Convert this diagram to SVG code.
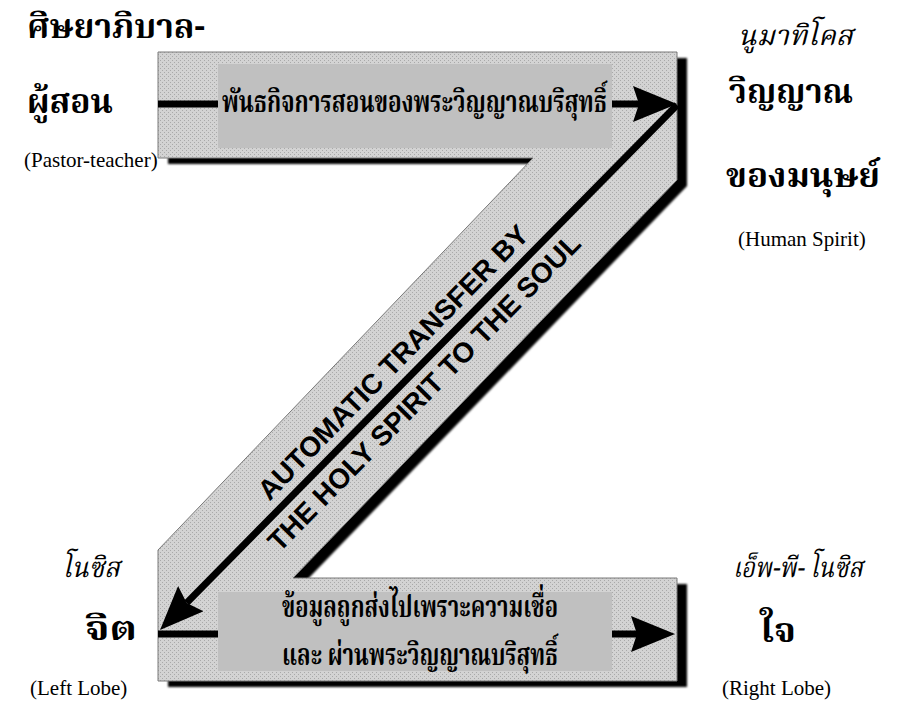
<svg xmlns="http://www.w3.org/2000/svg" width="901" height="702" viewBox="0 0 901 702">
<style>
.th{font-family:"Noto Serif Thai","Noto Sans Thai","Loma","Garuda","Norasi","Noto Sans",sans-serif;fill:#000}
.thb{font-weight:bold;font-size:34px}
.thi{font-style:italic;font-size:28px}
.box-t{font-weight:bold;font-size:31px}
.en{font-family:"Liberation Serif","Times New Roman",serif;font-size:21px;fill:#000}
.diag{font-family:"Liberation Sans",Arial,sans-serif;font-weight:bold;font-size:28px;fill:#000}
.conn{stroke:#000;stroke-width:7;fill:none}
.box{fill:#c0c0c0}
</style>
<defs>
<pattern id="dots" width="4" height="4" patternUnits="userSpaceOnUse">
<rect width="4" height="4" fill="#d3d3d3"/>
<rect x="0" y="0" width="1" height="1" fill="#a9a9a9"/>
<rect x="2" y="2" width="1" height="1" fill="#a9a9a9"/>
</pattern>
<filter id="soft" x="-5%" y="-5%" width="110%" height="110%">
<feGaussianBlur stdDeviation="0.8"/>
</filter>
<marker id="ah" viewBox="0 0 44 36" refX="6" refY="18" markerWidth="44" markerHeight="36" markerUnits="userSpaceOnUse" orient="auto">
<path d="M0,0 L44,18 L0,36 L6,18 Z" fill="#000"/>
</marker>
</defs>
<rect width="901" height="702" fill="#fff"/>
<g id="z-band">
<polygon points="158,52 677,52 677,180 293,578 677,578 677,681 158,681 158,550 533,158 158,158" fill="#000" transform="translate(10,6)" filter="url(#soft)"/>
<polygon points="158,52 677,52 677,180 293,578 677,578 677,681 158,681 158,550 533,158 158,158" fill="url(#dots)" stroke="#7a7a7a" stroke-width="1"/>
</g>
<g id="connectors">
<path class="conn" d="M158,104 L639,104" marker-end="url(#ah)"/>
<path class="conn" d="M677,105 L186.7,602.9" marker-end="url(#ah)"/>
<path class="conn" d="M158,634 L637,634" marker-end="url(#ah)"/>
</g>
<g id="box-top">
<rect class="box" x="218" y="64" width="394" height="84"/>
<text class="th box-t" x="222" y="112" textLength="385" lengthAdjust="spacingAndGlyphs">พันธกิจการสอนของพระวิญญาณบริสุทธิ์</text>
</g>
<g id="box-bottom">
<rect class="box" x="218" y="592" width="394" height="79"/>
<text class="th box-t" x="420" y="617" text-anchor="middle" textLength="276" lengthAdjust="spacingAndGlyphs">ข้อมูลถูกส่งไปเพราะความเชื่อ</text>
<text class="th box-t" x="420" y="665" text-anchor="middle" textLength="276" lengthAdjust="spacingAndGlyphs">และ ผ่านพระวิญญาณบริสุทธิ์</text>
</g>
<g id="diagonal-label">
<text class="diag" x="400" y="369" text-anchor="middle" transform="rotate(-45.45 400 369)">AUTOMATIC TRANSFER BY</text>
<text class="diag" x="431" y="399" text-anchor="middle" transform="rotate(-45.45 431 399)">THE HOLY SPIRIT TO THE SOUL</text>
</g>
<g id="node-pastor">
<text class="th thb" x="27" y="38" textLength="178" lengthAdjust="spacingAndGlyphs">ศิษยาภิบาล-</text>
<text class="th thb" x="27" y="113" textLength="86" lengthAdjust="spacingAndGlyphs">ผู้สอน</text>
<text class="en" x="24" y="167">(Pastor-teacher)</text>
</g>
<g id="node-human-spirit">
<text class="th thi" x="738" y="45" textLength="115" lengthAdjust="spacingAndGlyphs">นูมาทิโคส</text>
<text class="th thb" x="729" y="103" textLength="124" lengthAdjust="spacingAndGlyphs">วิญญาณ</text>
<text class="th thb" x="726" y="187" textLength="154" lengthAdjust="spacingAndGlyphs">ของมนุษย์</text>
<text class="en" x="738" y="246">(Human Spirit)</text>
</g>
<g id="node-left-lobe">
<text class="th thi" x="62" y="577" textLength="58" lengthAdjust="spacingAndGlyphs">โนซิส</text>
<text class="th thb" x="85" y="640" textLength="52" lengthAdjust="spacingAndGlyphs">จิต</text>
<text class="en" x="30" y="695">(Left Lobe)</text>
</g>
<g id="node-right-lobe">
<text class="th thi" x="733" y="577" textLength="130" lengthAdjust="spacingAndGlyphs">เอ็พ-พี- โนซิส</text>
<text class="th thb" x="760" y="642" textLength="36" lengthAdjust="spacingAndGlyphs">ใจ</text>
<text class="en" x="722" y="695">(Right Lobe)</text>
</g>
</svg>
